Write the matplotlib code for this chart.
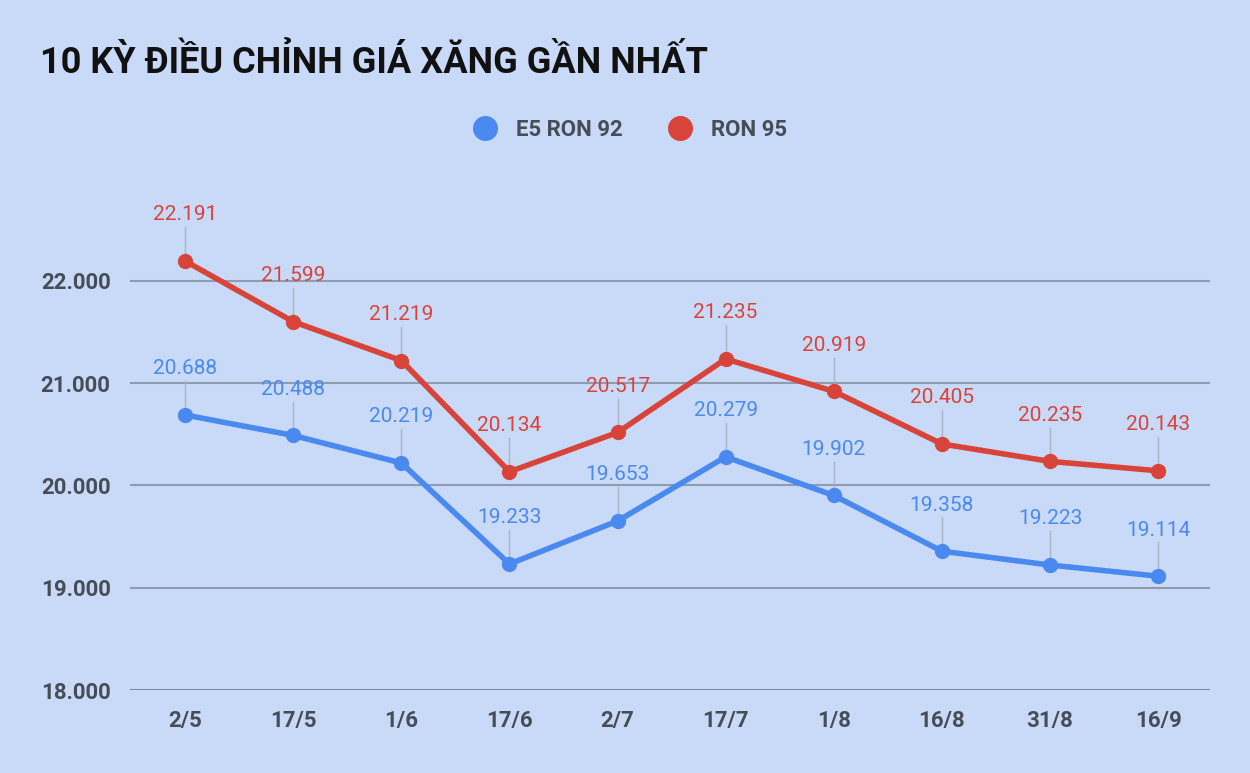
import matplotlib.pyplot as plt
from matplotlib.lines import Line2D

plt.rcParams['font.family'] = ['Roboto', 'DejaVu Sans']

ngay = ["2/5", "17/5", "1/6", "17/6", "2/7", "17/7", "1/8", "16/8", "31/8", "16/9"]
e5_ron92 = [20688, 20488, 20219, 19233, 19653, 20279, 19902, 19358, 19223, 19114]
ron95 = [22191, 21599, 21219, 20134, 20517, 21235, 20919, 20405, 20235, 20143]

nen = "#c9daf8"
xanh = "#4a89f0"
do = "#d9443a"

def dinh_dang(v):
    return f"{v:,}".replace(",", ".")

fig = plt.figure(figsize=(12.5, 7.73), dpi=100, facecolor=nen)
ax = fig.add_axes([0.104, 0.107, 0.864, 0.636], facecolor=nen)

x = list(range(len(ngay)))
for y, mau in [(e5_ron92, xanh), (ron95, do)]:
    ax.plot(x, y, color=mau, lw=4, marker="o", ms=10, zorder=3)
    for xi, yi in zip(x, y):
        ax.plot([xi, xi], [yi, yi + 330], color="#a9b4c4", lw=1, zorder=2)
        ax.text(xi, yi + 450, dinh_dang(yi), color=mau, fontsize=15,
                ha="center", va="center", zorder=4)

ax.set_xlim(-0.51, 9.48)
ax.set_ylim(18000, 22800)
ax.set_yticks([18000, 19000, 20000, 21000, 22000])
ax.set_yticklabels([dinh_dang(v) for v in [18000, 19000, 20000, 21000, 22000]])
ax.set_xticks(x)
ax.set_xticklabels(ngay)
ax.grid(axis="y", color="#8f9bb0", lw=1.5)
ax.set_axisbelow(True)
for s in ax.spines.values():
    s.set_visible(False)
ax.axhline(18000, color="#7d889c", lw=2, zorder=1)
ax.tick_params(length=0, labelsize=16, labelcolor="#474d57", pad=14)
for t in ax.get_xticklabels() + ax.get_yticklabels():
    t.set_fontweight("bold")

fig.text(0.032, 0.918, "10 KỲ ĐIỀU CHỈNH GIÁ XĂNG GẦN NHẤT", fontsize=26,
         fontweight="bold", color="#111111", va="center")

handles = [Line2D([], [], color=xanh, marker="o", ls="", ms=17),
           Line2D([], [], color=do, marker="o", ls="", ms=17)]
leg = fig.legend(handles, ["E5 RON 92", "RON 95"], loc="center",
                 bbox_to_anchor=(0.5, 0.832), ncol=2, frameon=False,
                 fontsize=16, handletextpad=0.4, columnspacing=1.6)
for t in leg.get_texts():
    t.set_fontweight("bold")
    t.set_color("#474d57")

fig.savefig("out.png", dpi=100, facecolor=nen)
